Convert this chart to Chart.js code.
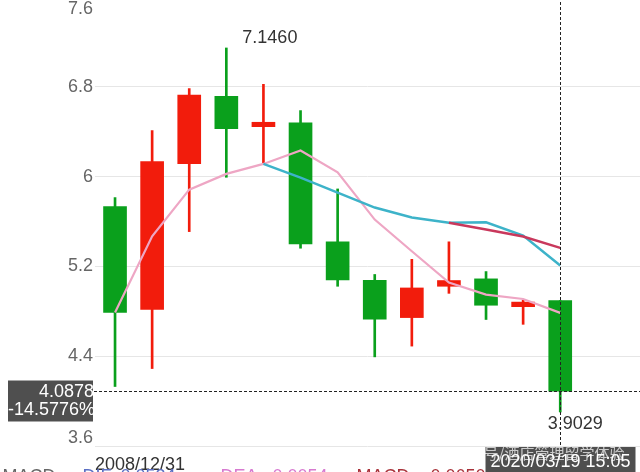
<!DOCTYPE html>
<html>
<head>
<meta charset="utf-8">
<script src="https://cdn.jsdelivr.net/npm/chart.js@4.4.1/dist/chart.umd.min.js"></script>
<style>
  html, body { margin: 0; padding: 0; background: #fff; overflow: hidden; }
  #wrap { position: absolute; left: 0; top: -3px; width: 640px; height: 475px; }
</style>
</head>
<body>
<div id="wrap"><canvas id="myChart"></canvas></div>
<script>
const ctx = document.querySelector("#myChart").getContext("2d");

const dates = [
    "2008/12/31", "2009/12/31", "2010/12/31", "2011/12/31", "2012/12/31",
    "2013/12/31", "2014/12/31", "2015/12/31", "2016/12/31", "2017/12/31",
    "2018/12/31", "2019/12/31", "2020/03/19",
];
const open  = [5.733, 4.816, 6.116, 6.715, 6.445, 6.478, 5.419, 5.077, 4.744, 5.023, 5.089, 4.841, 4.896];
const close = [4.789, 6.134, 6.727, 6.427, 6.484, 5.401, 5.080, 4.730, 5.008, 5.074, 4.854, 4.882, 4.0878];
const high  = [5.813, 6.410, 6.784, 7.146, 6.822, 6.588, 5.890, 5.128, 5.263, 5.419, 5.154, 4.898, 4.896];
const low   = [4.130, 4.290, 5.510, 5.994, 6.113, 5.362, 5.023, 4.394, 4.490, 4.960, 4.727, 4.684, 3.9029];

const maPink = [4.789, 5.468, 5.884, 6.024, 6.113, 6.232, 6.038, 5.617, 5.335, 5.056, 4.949, 4.910, 4.786];
const maTeal = [null, null, null, null, 6.113, 5.991, 5.858, 5.724, 5.635, 5.588, 5.593, 5.475, 5.208];
const maRed  = [null, null, null, null, null, null, null, null, null, 5.588, 5.528, 5.466, 5.365];

const yTicks = [3.6, 4.4, 5.2, 6, 6.8, 7.6];
const pctText = "-14.5776%";
const timeText = "2020/03/19 15:05";
const watermark = "号/酒店管理留学体验";
const macdLegend = [
    ["MACD：", "#666"], ["DIF：", "#5b6fc4"], ["-0.0524", "#5b6fc4"],
    ["DEA：", "#d77ad0"], ["0.0054", "#d77ad0"],
    ["MACD：", "#a8323a"], ["-0.0650", "#a8323a"],
];
const legendX = [38, 106, 145, 248, 300, 392, 455];

const UP = "#f21c0c";
const DOWN = "#0aa01c";
const colors = close.map((c, i) => c >= open[i] ? UP : DOWN);

const xy = (arr) => arr.map((v, i) => ({ x: i, y: v }));
const FONT = "'Liberation Sans', Arial, sans-serif";

const overlay = {
    id: "overlay",
    afterDatasetsDraw(chart) {
        const c = chart.ctx;
        const xs = chart.scales.x, ys = chart.scales.y;
        const ca = chart.chartArea;
        const last = dates.length - 1;
        const px = Math.round(xs.getPixelForValue(last)) + 0.5;
        const py = Math.round(ys.getPixelForValue(close[last])) + 0.5;
        c.save();

        // y labels at the two edges, kept inside the canvas
        c.font = "18px " + FONT;
        c.fillStyle = "#666";
        c.textAlign = "right";
        c.textBaseline = "middle";
        [yTicks[0], yTicks[yTicks.length - 1]].forEach(v => {
            let y = ys.getPixelForValue(v);
            y = Math.min(Math.max(y, 12), ca.bottom - 8);
            c.fillText(String(v), ca.left - 2, y);
        });

        // max / min marks
        const hi = high.indexOf(Math.max(...high));
        const lo = low.indexOf(Math.min(...low));
        c.fillStyle = "#333";
        c.textAlign = "left";
        c.fillText(high[hi].toFixed(4), xs.getPixelForValue(hi) + 16, ys.getPixelForValue(high[hi]) - 10);
        c.textAlign = "center";
        c.fillText(low[lo].toFixed(4), xs.getPixelForValue(lo) + 15, ys.getPixelForValue(low[lo]) + 12);

        // crosshair
        c.strokeStyle = "#222";
        c.lineWidth = 1;
        c.setLineDash([3, 2]);
        c.beginPath();
        c.moveTo(px, 0);
        c.lineTo(px, chart.height);
        c.moveTo(ca.left - 1, py);
        c.lineTo(chart.width, py);
        c.stroke();
        c.setLineDash([]);

        // y pointer box
        c.fillStyle = "rgba(70,70,70,0.95)";
        c.fillRect(8, py - 11, 85, 41);
        c.save();
        c.beginPath();
        c.rect(8, py - 11, 85, 41);
        c.clip();
        c.fillStyle = "#fff";
        c.textAlign = "right";
        c.fillText(close[last].toFixed(4), 94, py + 1);
        c.textAlign = "left";
        c.fillText(pctText, 8, py + 19);
        c.restore();

        // MACD legend, cut by the bottom edge
        c.font = "18px " + FONT;
        c.textBaseline = "alphabetic";
        macdLegend.forEach(([t, col], i) => {
            c.fillStyle = col;
            c.fillText(t, legendX[i], chart.height + 10);
        });

        // x pointer box
        const by = ca.bottom + 1;
        c.textBaseline = "middle";
        c.fillStyle = "rgba(70,70,70,0.95)";
        c.fillRect(px - 75, by, 150, 30);
        c.fillStyle = "#fff";
        c.textAlign = "center";
        c.font = "18px " + FONT;
        c.fillText(timeText, px, by + 15);
        c.fillStyle = "rgba(255,255,255,0.7)";
        c.font = "15px 'Noto Sans CJK SC', sans-serif";
        c.textAlign = "left";
        c.fillText(watermark, px - 77, by + 6);
        c.restore();
    }
};

const config = {
    data: {
        datasets: [
            {
                type: "line", data: xy(maRed), borderColor: "#c9385c", borderWidth: 2.5,
                pointRadius: 0, tension: 0, spanGaps: false, order: 0,
            },
            {
                type: "line", data: xy(maTeal), borderColor: "#3db3c9", borderWidth: 2.5,
                pointRadius: 0, tension: 0, spanGaps: false, order: 0,
            },
            {
                type: "line", data: xy(maPink), borderColor: "#eea6c4", borderWidth: 2.2,
                pointRadius: 0, tension: 0, order: 0,
            },
            {
                type: "bar", data: open.map((o, i) => ({ x: i, y: [o, close[i]] })),
                backgroundColor: colors, barThickness: 23, minBarLength: 3, grouped: false, order: 1,
            },
            {
                type: "bar", data: low.map((l, i) => ({ x: i, y: [l, high[i]] })),
                backgroundColor: colors, barThickness: 2, grouped: false, order: 2,
            },
        ]
    },
    options: {
        responsive: true,
        maintainAspectRatio: false,
        animation: false,
        layout: { padding: 0 },
        plugins: { legend: { display: false }, tooltip: { enabled: false } },
        scales: {
            x: {
                type: "linear",
                min: -0.54,
                max: 14.15,
                offset: false,
                afterBuildTicks: (s) => { s.ticks = [{ value: s.min }]; },
                afterFit: (s) => {
                    s.height = 26;
                    s.paddingLeft = 0;
                    s.paddingRight = 0;
                },
                grid: { display: false },
                border: { display: false },
                ticks: {
                    align: "start",
                    padding: 0,
                    maxRotation: 0,
                    color: "#333",
                    font: { family: FONT, size: 18 },
                    callback: () => dates[0],
                },
            },
            y: {
                min: yTicks[0],
                max: yTicks[yTicks.length - 1],
                afterBuildTicks: (s) => { s.ticks = yTicks.map(v => ({ value: v })); },
                afterFit: (s) => {
                    s.width = 95;
                    s.paddingTop = 0;
                    s.paddingBottom = 0;
                },
                grid: { color: "#e6e6e6", drawTicks: false },
                border: { display: false },
                ticks: {
                    padding: 2,
                    color: (c) => (c.index === 0 || c.index === yTicks.length - 1) ? "rgba(0,0,0,0)" : "#666",
                    font: { family: FONT, size: 18 },
                    callback: (v) => String(v),
                },
            },
        },
    },
    plugins: [overlay],
};

const myChart = new Chart(ctx, config);
</script>
</body>
</html>
